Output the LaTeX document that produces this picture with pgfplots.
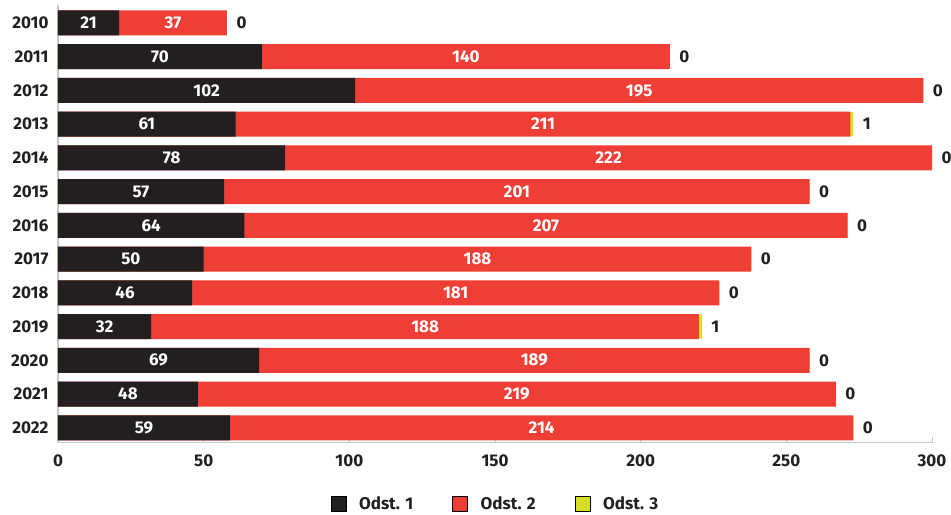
\documentclass[border=0pt]{standalone}
\usepackage{fontspec}
\setmainfont{Fira Sans}
\usepackage{pgfplots}
\usepackage{pgfplotstable}
\pgfplotsset{compat=1.18}

\definecolor{odsA}{HTML}{231F20}
\definecolor{odsB}{HTML}{EF3E36}
\definecolor{odsC}{HTML}{D7DF23}
\definecolor{axgray}{HTML}{C8C8C8}

% idx year odst1 odst2 odst3
\pgfplotstableread{
idx year a b c
0 2010 21 37 0
1 2011 70 140 0
2 2012 102 195 0
3 2013 61 211 1
4 2014 78 222 0
5 2015 57 201 0
6 2016 64 207 0
7 2017 50 188 0
8 2018 46 181 0
9 2019 32 188 1
10 2020 69 189 0
11 2021 48 219 0
12 2022 59 214 0
}\data

\begin{document}
\begin{tikzpicture}
\begin{axis}[
    scale only axis,
    width=874pt, height=437.7pt,
    xmin=0, xmax=300,
    ymin=-0.53, ymax=12.44,
    y dir=reverse,
    clip=false,
    font=\fontsize{17}{20}\selectfont\bfseries,
    /pgf/number format/assume math mode=true,
    xtick={0,50,100,150,200,250,300},
    ytick={0,...,12},
    yticklabels={2010,2011,2012,2013,2014,2015,2016,2017,2018,2019,2020,2021,2022},
    axis x line*=bottom,
    axis y line*=left,
    axis line style={-, axgray, line width=1.2pt},
    xtick align=inside,
    major tick length=6pt,
    ytick style={draw=none},
    xtick style={axgray, line width=1pt},
    ticklabel style={text=odsA},
    xticklabel style={yshift=-9pt},
    yticklabel style={xshift=-6pt},
    legend style={
        draw=none,
        fill=none,
        at={(axis description cs:0.5,-0.139)},
        anchor=center,
        legend columns=3,
        font=\fontsize{17}{20}\selectfont\bfseries,
        text=odsA,
        inner sep=0pt,
        nodes={inner sep=1pt},
        /tikz/every odd column/.append style={column sep=12pt},
        /tikz/every even column/.append style={column sep=38pt},
    },
    legend image code/.code={\fill[#1] (0pt,-7.5pt) rectangle (15pt,7.5pt);},
]
\coordinate (bl) at (axis description cs:0,0);
\coordinate (tr) at (axis description cs:1,1);

\addlegendimage{fill=odsA}
\addlegendentry{Odst. 1}
\addlegendimage{fill=odsB}
\addlegendentry{Odst. 2}
\addlegendimage{fill=odsC}
\addlegendentry{Odst. 3}

% bars drawn back to front as cumulative lengths
\addplot[xbar, bar width=24pt, bar shift=0pt, fill=odsC, draw=none, forget plot]
    table[x expr=\thisrow{a}+\thisrow{b}+\thisrow{c}, y=idx] {\data};
\addplot[xbar, bar width=25pt, bar shift=0pt, fill=odsB, draw=none, forget plot]
    table[x expr=\thisrow{a}+\thisrow{b}, y=idx] {\data};
\addplot[xbar, bar width=25pt, bar shift=0pt, fill=odsA, draw=none, forget plot]
    table[x=a, y=idx] {\data};

% value labels
\addplot[draw=none, forget plot, nodes near coords, point meta=explicit,
    every node near coord/.append style={anchor=center, text=white}]
    table[x expr=\thisrow{a}/2, y=idx, meta=a] {\data};
\addplot[draw=none, forget plot, nodes near coords, point meta=explicit,
    every node near coord/.append style={anchor=center, text=white}]
    table[x expr=\thisrow{a}+\thisrow{b}/2, y=idx, meta=b] {\data};
\addplot[draw=none, forget plot, nodes near coords, point meta=explicit,
    every node near coord/.append style={anchor=west, xshift=6pt, text=odsA}]
    table[x expr=\thisrow{a}+\thisrow{b}+\thisrow{c}, y=idx, meta=c] {\data};
\end{axis}
\pgfresetboundingbox
\path ([shift={(-58pt,-72pt)}]bl) rectangle ([shift={(19pt,5pt)}]tr);
\end{tikzpicture}
\end{document}
